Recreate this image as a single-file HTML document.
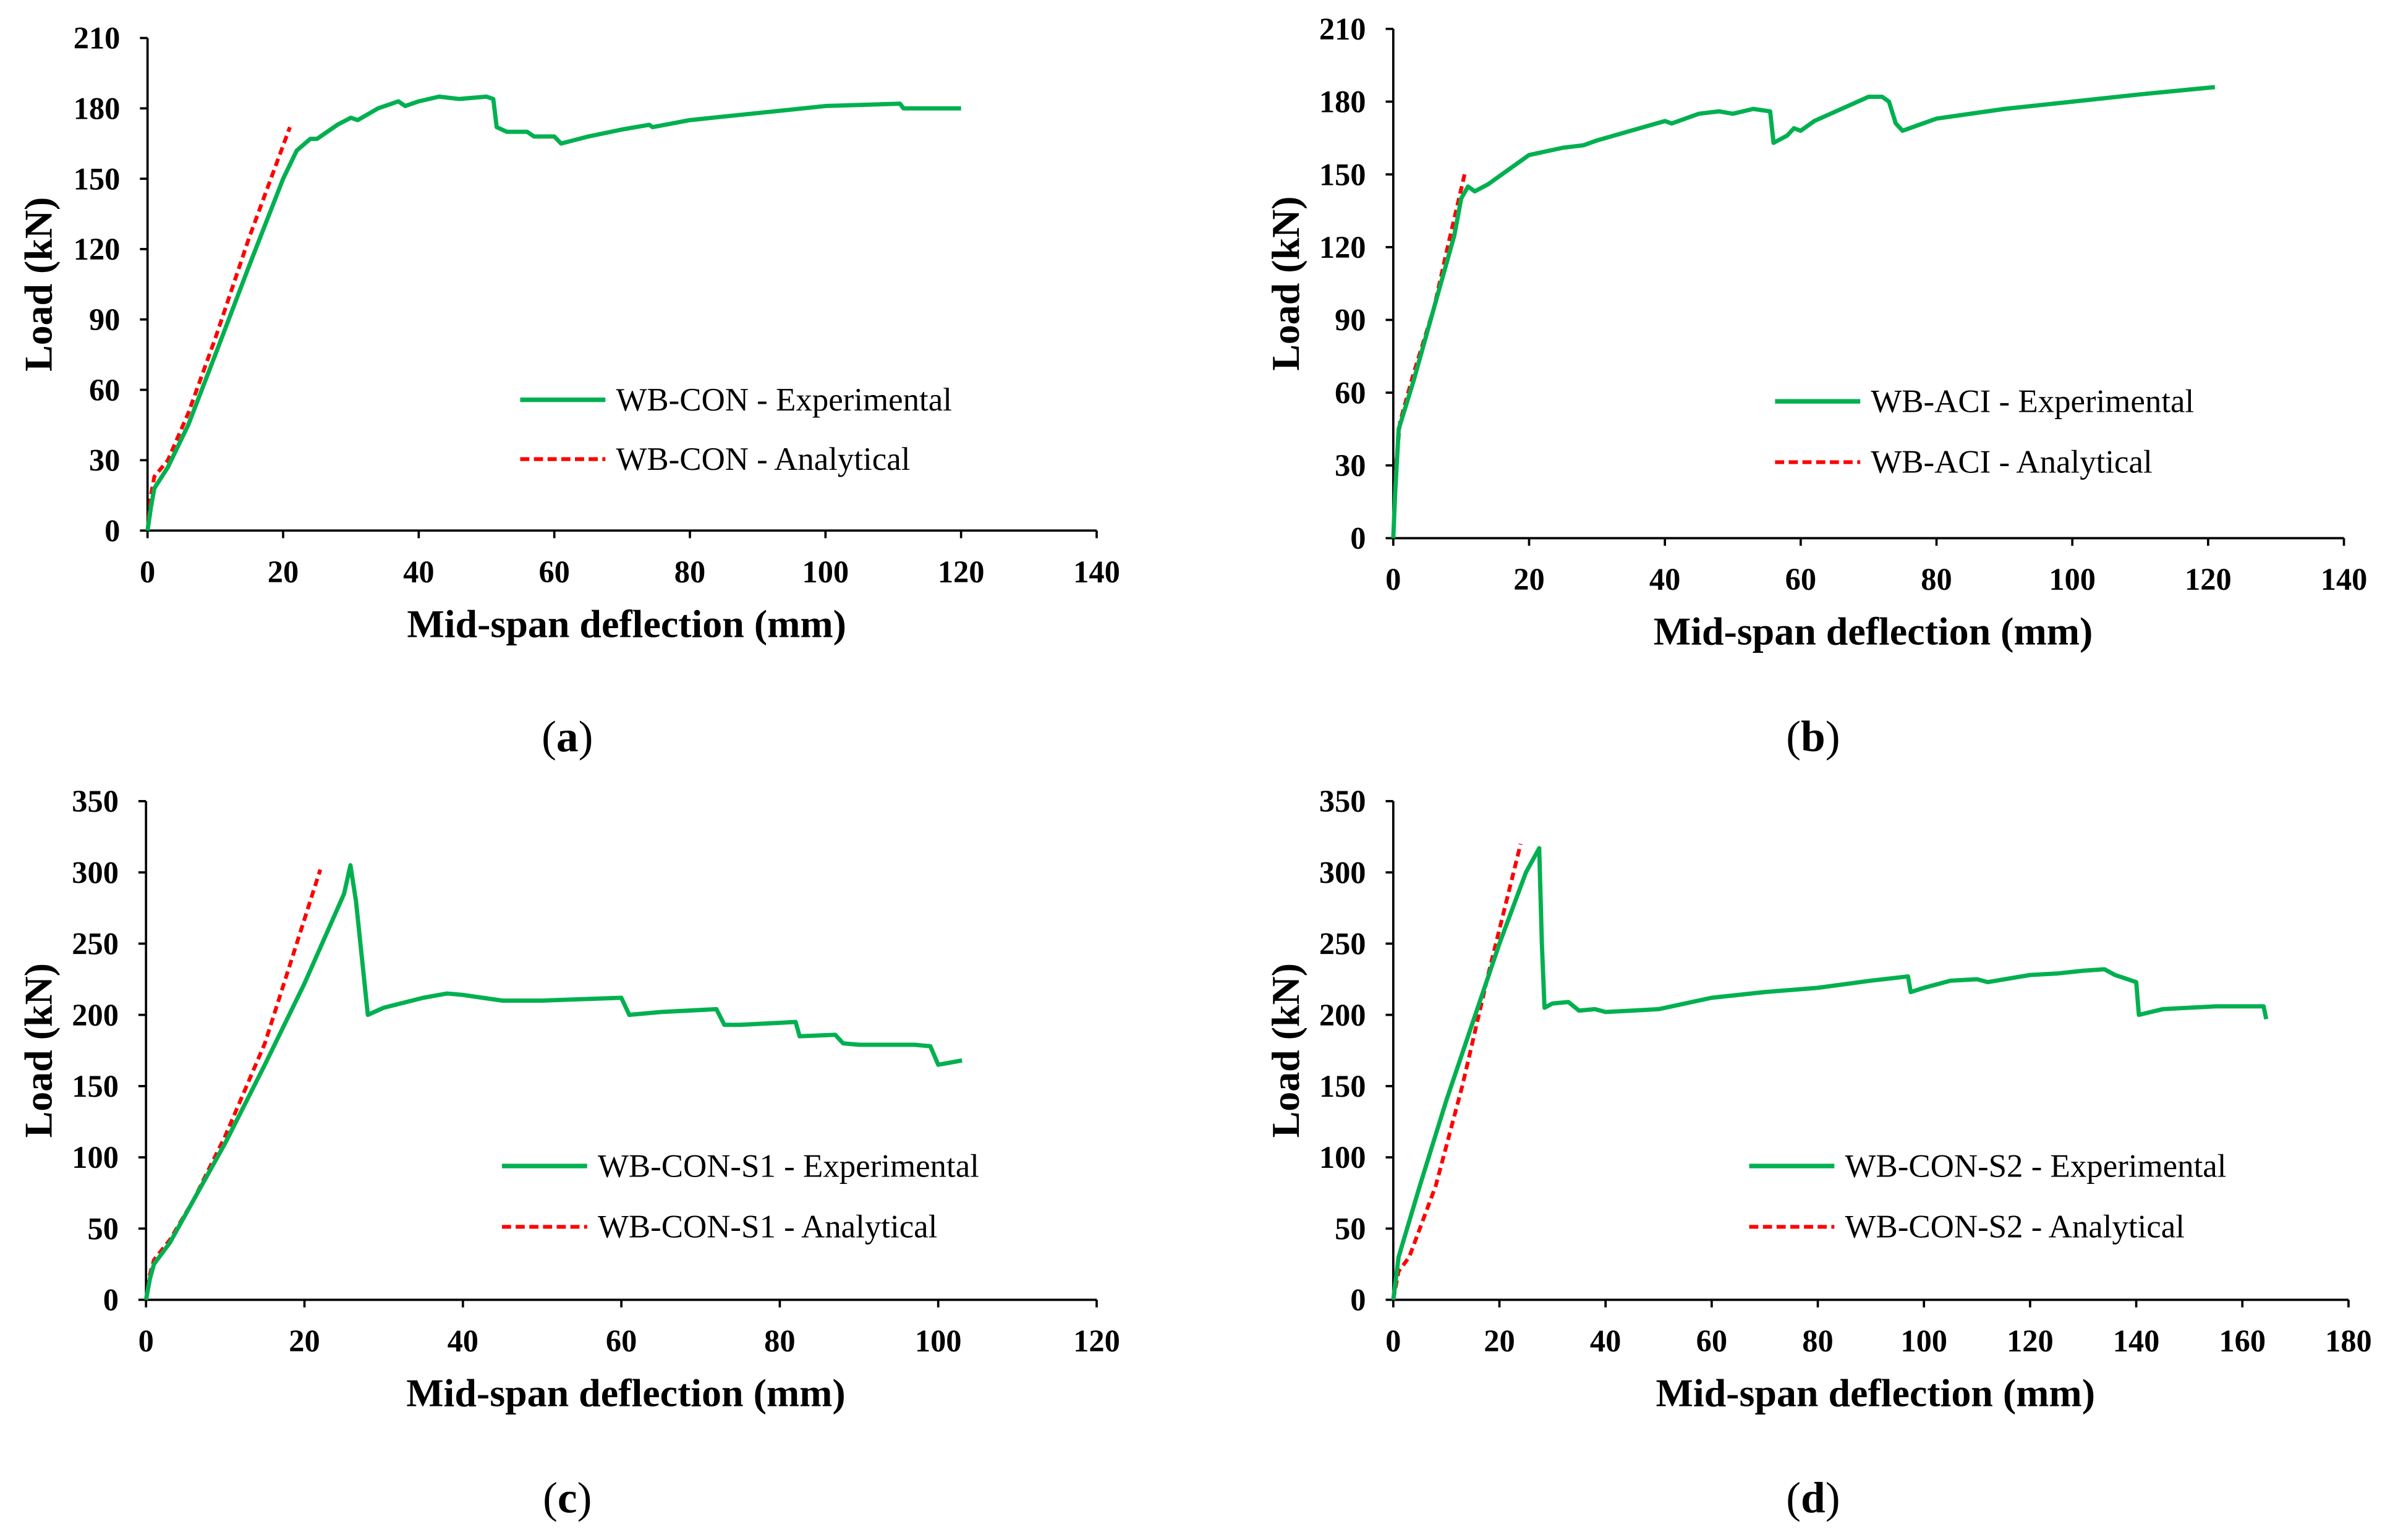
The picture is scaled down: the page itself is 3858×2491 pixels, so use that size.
<!DOCTYPE html>
<html><head><meta charset="utf-8"><style>
html,body{margin:0;padding:0;background:#fff;}
svg{display:block;font-family:"Liberation Serif",serif;}
</style></head><body>
<svg id="fig" width="3858" height="2491" viewBox="0 0 1568 1013" preserveAspectRatio="none" xmlns="http://www.w3.org/2000/svg"></svg>
<script>
// Panel (a)
const aExpX=[0,0.5,1,3,6,10,15,20,22,24,25,28,30,31,34,37,38,40,43,46,50,51,51.5,53,56,57,60,61,65,70,74,74.5,80,90,100,111,111.5,120];
const aExpY=[0,10,18,27,45,75,113,150,162,167,167,173,176,175,180,183,181,183,185,184,185,184,172,170,170,168,168,165,168,171,173,172,175,178,181,182,180,180];
const aAnaX=[0,0.5,1,3,6,10,15,21];
const aAnaY=[0,15,23,30,50,82,125,172];
const aXTicks=[0,20,40,60,80,100,120,140];
const aYTicks=[0,30,60,90,120,150,180,210];
// Panel (b)
const bExpX=[0,0.3,0.8,3,6,9,10,11,12,14,17,20,25,28,30,35,40,41,45,48,50,53,55.5,56,58,59,60,62,66,70,72,73,74,75,77,80,90,100,110,121];
const bExpY=[0,20,45,65,95,125,140,145,143,146,152,158,161,162,164,168,172,171,175,176,175,177,176,163,166,169,168,172,177,182,182,180,171,168,170,173,177,180,183,186];
const bAnaX=[0,0.4,1,3,6,8,10.5];
const bAnaY=[0,30,48,68,95,120,150];
const bXTicks=[0,20,40,60,80,100,120,140];
const bYTicks=[0,30,60,90,120,150,180,210];
// Panel (c)
const cExpX=[0,0.5,1,3,6,10,15,20,25,25.8,26.5,28,30,35,38,40,45,50,55,60,61,65,72,73,75,82,82.5,87,88,90,97,99,100,103];
const cExpY=[0,15,25,40,70,110,165,222,285,305,280,200,205,212,215,214,210,210,211,212,200,202,204,193,193,195,185,186,180,179,179,178,165,168];
const cAnaX=[0,0.5,1,3,6,10,15,22];
const cAnaY=[0,18,28,42,70,115,180,302];
const cXTicks=[0,20,40,60,80,100,120];
const cYTicks=[0,50,100,150,200,250,300,350];
// Panel (d)
const dExpX=[0,1,5,10,15,20,25,27.5,28,28.5,30,33,35,38,40,45,50,55,60,70,80,90,97,97.5,100,105,110,112,120,125,130,134,136,140,140.5,145,155,160,164,164.5];
const dExpY=[0,30,80,140,195,250,300,317,250,205,208,209,203,204,202,203,204,208,212,216,219,224,227,216,219,224,225,223,228,229,231,232,228,223,200,204,206,206,206,197];
const dAnaX=[0,1,3,8,13,18,24];
const dAnaY=[0,20,30,80,150,230,320];
const dXTicks=[0,20,40,60,80,100,120,140,160,180];
const dYTicks=[0,50,100,150,200,250,300,350];

const NS="http://www.w3.org/2000/svg";
const svg=document.getElementById('fig');
function mk(tag,attrs,parent){const e=document.createElementNS(NS,tag);for(const k in attrs)e.setAttribute(k,attrs[k]);(parent||svg).appendChild(e);return e;}

const panels=[
 {id:'a',x0:97,x1:721,y0:349,y1:25,xt:aXTicks,yt:aYTicks,ex:aExpX,ey:aExpY,ax:aAnaX,ay:aAnaY,name:'WB-CON',leg:[342,263,302],xl:376,xtl:410,cap:[373,484],ytx:25},
 {id:'b',x0:916,x1:1541,y0:354,y1:19,xt:bXTicks,yt:bYTicks,ex:bExpX,ey:bExpY,ax:bAnaX,ay:bAnaY,name:'WB-ACI',leg:[1167,264,304],xl:381,xtl:415,cap:[1192,484],ytx:845},
 {id:'c',x0:96,x1:721,y0:855,y1:527,xt:cXTicks,yt:cYTicks,ex:cExpX,ey:cExpY,ax:cAnaX,ay:cAnaY,name:'WB-CON-S1',leg:[330,767,807],xl:882,xtl:916,cap:[373,985],ytx:25},
 {id:'d',x0:916,x1:1544,y0:855,y1:527,xt:dXTicks,yt:dYTicks,ex:dExpX,ey:dExpY,ax:dAnaX,ay:dAnaY,name:'WB-CON-S2',leg:[1150,767,807],xl:882,xtl:916,cap:[1192,985],ytx:845}
];

panels.forEach(p=>{
  const g=mk('g',{});
  
  
  const xmax=p.xt[p.xt.length-1], ymax=p.yt[p.yt.length-1];
  const sx=v=>p.x0+(p.x1-p.x0)*v/xmax;
  const sy=v=>p.y0+(p.y1-p.y0)*v/ymax;
  const xa=mk('line',{x1:p.x0,y1:p.y0,x2:p.x1,y2:p.y0,stroke:'#000','stroke-width':1.5},g);
  
  
  const ya=mk('line',{x1:p.x0,y1:p.y0,x2:p.x0,y2:p.y1,stroke:'#000','stroke-width':1.5},g);
  
  
  p.xt.forEach(t=>{
    mk('line',{x1:sx(t),y1:p.y0,x2:sx(t),y2:p.y0+5,stroke:'#000','stroke-width':1.5},g);
    const tx=mk('text',{x:sx(t),y:p.xl+7,'text-anchor':'middle','font-size':20.5,'font-weight':'bold'},g);
    tx.textContent=t;
    
    
  });
  p.yt.forEach(t=>{
    mk('line',{x1:p.x0-5,y1:sy(t),x2:p.x0,y2:sy(t),stroke:'#000','stroke-width':1.5},g);
    const tx=mk('text',{x:p.x0-18,y:sy(t)+7,'text-anchor':'end','font-size':20.5,'font-weight':'bold'},g);
    tx.textContent=t;
    
    
  });
  const xt=mk('text',{x:(p.x0+p.x1)/2+3,y:p.xtl+9,'text-anchor':'middle','font-size':26,'font-weight':'bold'},g);
  xt.textContent='Mid-span deflection (mm)';
  
  
  const yc=(p.y0+p.y1)/2;
  const yt=mk('text',{x:p.ytx+9,y:yc,'text-anchor':'middle','font-size':26,'font-weight':'bold',transform:`rotate(-90 ${p.ytx+9} ${yc})`},g);
  yt.textContent='Load (kN)';
  
  
  const pts=(xs,ys)=>xs.map((v,i)=>sx(v).toFixed(2)+','+sy(ys[i]).toFixed(2)).join(' ');
  const ana=mk('polyline',{points:pts(p.ax,p.ay),fill:'none',stroke:'#ff0000','stroke-width':2.5,'stroke-dasharray':'5,3'},g);
  
  
  const exp=mk('polyline',{points:pts(p.ex,p.ey),fill:'none',stroke:'#00b050','stroke-width':2.8,'stroke-linejoin':'round'},g);
  
  
  const [lx,ly1,ly2]=p.leg;
  const l1=mk('line',{x1:lx,y1:ly1,x2:lx+56,y2:ly1,stroke:'#00b050','stroke-width':3},g);
  
  
  const t1=mk('text',{x:lx+63,y:ly1+7,'font-size':21.5},g);
  t1.textContent=p.name+' - Experimental';
  
  
  const l2=mk('line',{x1:lx,y1:ly2,x2:lx+56,y2:ly2,stroke:'#ff0000','stroke-width':2.5,'stroke-dasharray':'6,3'},g);
  
  
  const t2=mk('text',{x:lx+63,y:ly2+7,'font-size':21.5},g);
  t2.textContent=p.name+' - Analytical';
  
  
  const cap=mk('text',{x:p.cap[0],y:p.cap[1]+10,'text-anchor':'middle','font-size':29},g);
  cap.innerHTML='(<tspan font-weight="bold">'+p.id+'</tspan>)';
  
  
});
</script>
</body></html>
